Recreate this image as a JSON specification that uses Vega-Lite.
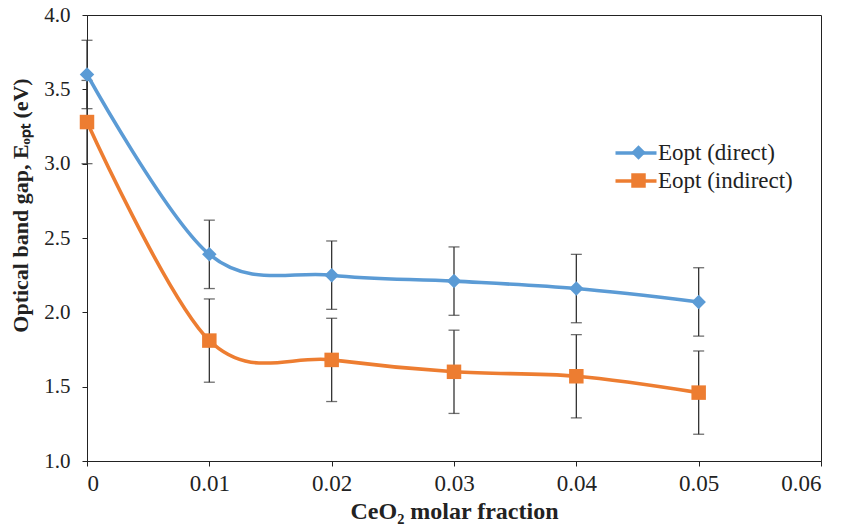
{
  "$schema": "https://vega.github.io/schema/vega-lite/v6.json",
  "width": 734,
  "height": 446,
  "autosize": "none",
  "padding": {"left": 87, "top": 15, "right": 24, "bottom": 66},
  "background": "white",
  "config": {
    "view": {"stroke": "#222", "strokeWidth": 1},
    "axis": {
      "grid": false,
      "domainColor": "#222",
      "tickColor": "#222",
      "labelFont": "Liberation Serif",
      "labelColor": "#222",
      "titleFont": "Liberation Serif",
      "titleFontWeight": "bold",
      "titleColor": "#222",
      "tickSize": 5
    }
  },
  "data": {
    "values": [
      {"x": 0, "y": 3.6, "lo": 3.37, "hi": 3.83, "series": "Eopt (direct)"},
      {"x": 0.01, "y": 2.39, "lo": 2.16, "hi": 2.62, "series": "Eopt (direct)"},
      {"x": 0.02, "y": 2.25, "lo": 2.02, "hi": 2.48, "series": "Eopt (direct)"},
      {"x": 0.03, "y": 2.21, "lo": 1.98, "hi": 2.44, "series": "Eopt (direct)"},
      {"x": 0.04, "y": 2.16, "lo": 1.93, "hi": 2.39, "series": "Eopt (direct)"},
      {"x": 0.05, "y": 2.07, "lo": 1.84, "hi": 2.30, "series": "Eopt (direct)"},
      {"x": 0, "y": 3.28, "lo": 3.0, "hi": 3.56, "series": "Eopt (indirect)"},
      {"x": 0.01, "y": 1.81, "lo": 1.53, "hi": 2.09, "series": "Eopt (indirect)"},
      {"x": 0.02, "y": 1.68, "lo": 1.40, "hi": 1.96, "series": "Eopt (indirect)"},
      {"x": 0.03, "y": 1.60, "lo": 1.32, "hi": 1.88, "series": "Eopt (indirect)"},
      {"x": 0.04, "y": 1.57, "lo": 1.29, "hi": 1.85, "series": "Eopt (indirect)"},
      {"x": 0.05, "y": 1.46, "lo": 1.18, "hi": 1.74, "series": "Eopt (indirect)"}
    ]
  },
  "layer": [
    {
      "mark": {"type": "errorbar", "ticks": {"size": 11}, "color": "#333", "thickness": 1.3},
      "encoding": {
        "x": {"field": "x", "type": "quantitative", "title": "CeO₂ molar fraction"},
        "y": {"field": "lo", "type": "quantitative", "title": "Optical band gap, Eₒₚₜ (eV)"},
        "y2": {"field": "hi"}
      }
    },
    {
      "mark": {"type": "line", "interpolate": "cardinal", "tension": 0, "strokeWidth": 3.6},
      "encoding": {
        "x": {"field": "x", "type": "quantitative", "title": "CeO₂ molar fraction"},
        "y": {"field": "y", "type": "quantitative", "title": "Optical band gap, Eₒₚₜ (eV)"},
        "stroke": {
          "field": "series", "type": "nominal",
          "scale": {"domain": ["Eopt (direct)", "Eopt (indirect)"], "range": ["#5B9BD5", "#ED7D31"]},
          "legend": {
            "title": null,
            "orient": "none",
            "legendX": 537,
            "legendY": 126,
            "padding": 0,
            "symbolType": "M-2.05,0H2.05",
            "symbolSize": 400,
            "symbolStrokeWidth": 3.6,
            "labelFont": "Liberation Serif",
            "labelFontSize": 23,
            "labelColor": "#222",
            "labelOffset": 10,
            "rowPadding": 4
          }
        }
      }
    },
    {
      "mark": {"type": "point", "filled": true, "opacity": 1, "size": 210},
      "encoding": {
        "x": {
          "field": "x", "type": "quantitative", "title": "CeO₂ molar fraction",
          "scale": {"domain": [0, 0.06], "nice": false, "zero": false},
          "axis": {"values": [0, 0.01, 0.02, 0.03, 0.04, 0.05, 0.06], "format": ".2~f", "labelFontSize": 23, "titleFontSize": 24, "labelPadding": 6, "titlePadding": 4}
        },
        "y": {
          "field": "y", "type": "quantitative", "title": "Optical band gap, Eₒₚₜ (eV)",
          "scale": {"domain": [1, 4], "nice": false, "zero": false},
          "axis": {"values": [1, 1.5, 2, 2.5, 3, 3.5, 4], "format": ".1f", "labelFontSize": 21, "titleFontSize": 22, "labelPadding": 12, "titleX": -67, "titleY": 190, "titleBaseline": "middle", "titleAlign": "center"}
        },
        "fill": {
          "field": "series", "type": "nominal",
          "scale": {"range": ["#5B9BD5", "#ED7D31"]},
          "legend": {
            "title": null,
            "orient": "none",
            "legendX": 540,
            "legendY": 126,
            "padding": 0,
            "symbolSize": 210,
            "symbolStrokeWidth": 0,
            "symbolOpacity": 1,
            "labelFont": "Liberation Serif",
            "labelFontSize": 23,
            "labelColor": "transparent",
            "labelExpr": "''",
            "labelOffset": 10,
            "rowPadding": 4
          }
        },
        "shape": {
          "field": "series", "type": "nominal",
          "scale": {"range": ["diamond", "square"]}
        }
      }
    }
  ]
}
